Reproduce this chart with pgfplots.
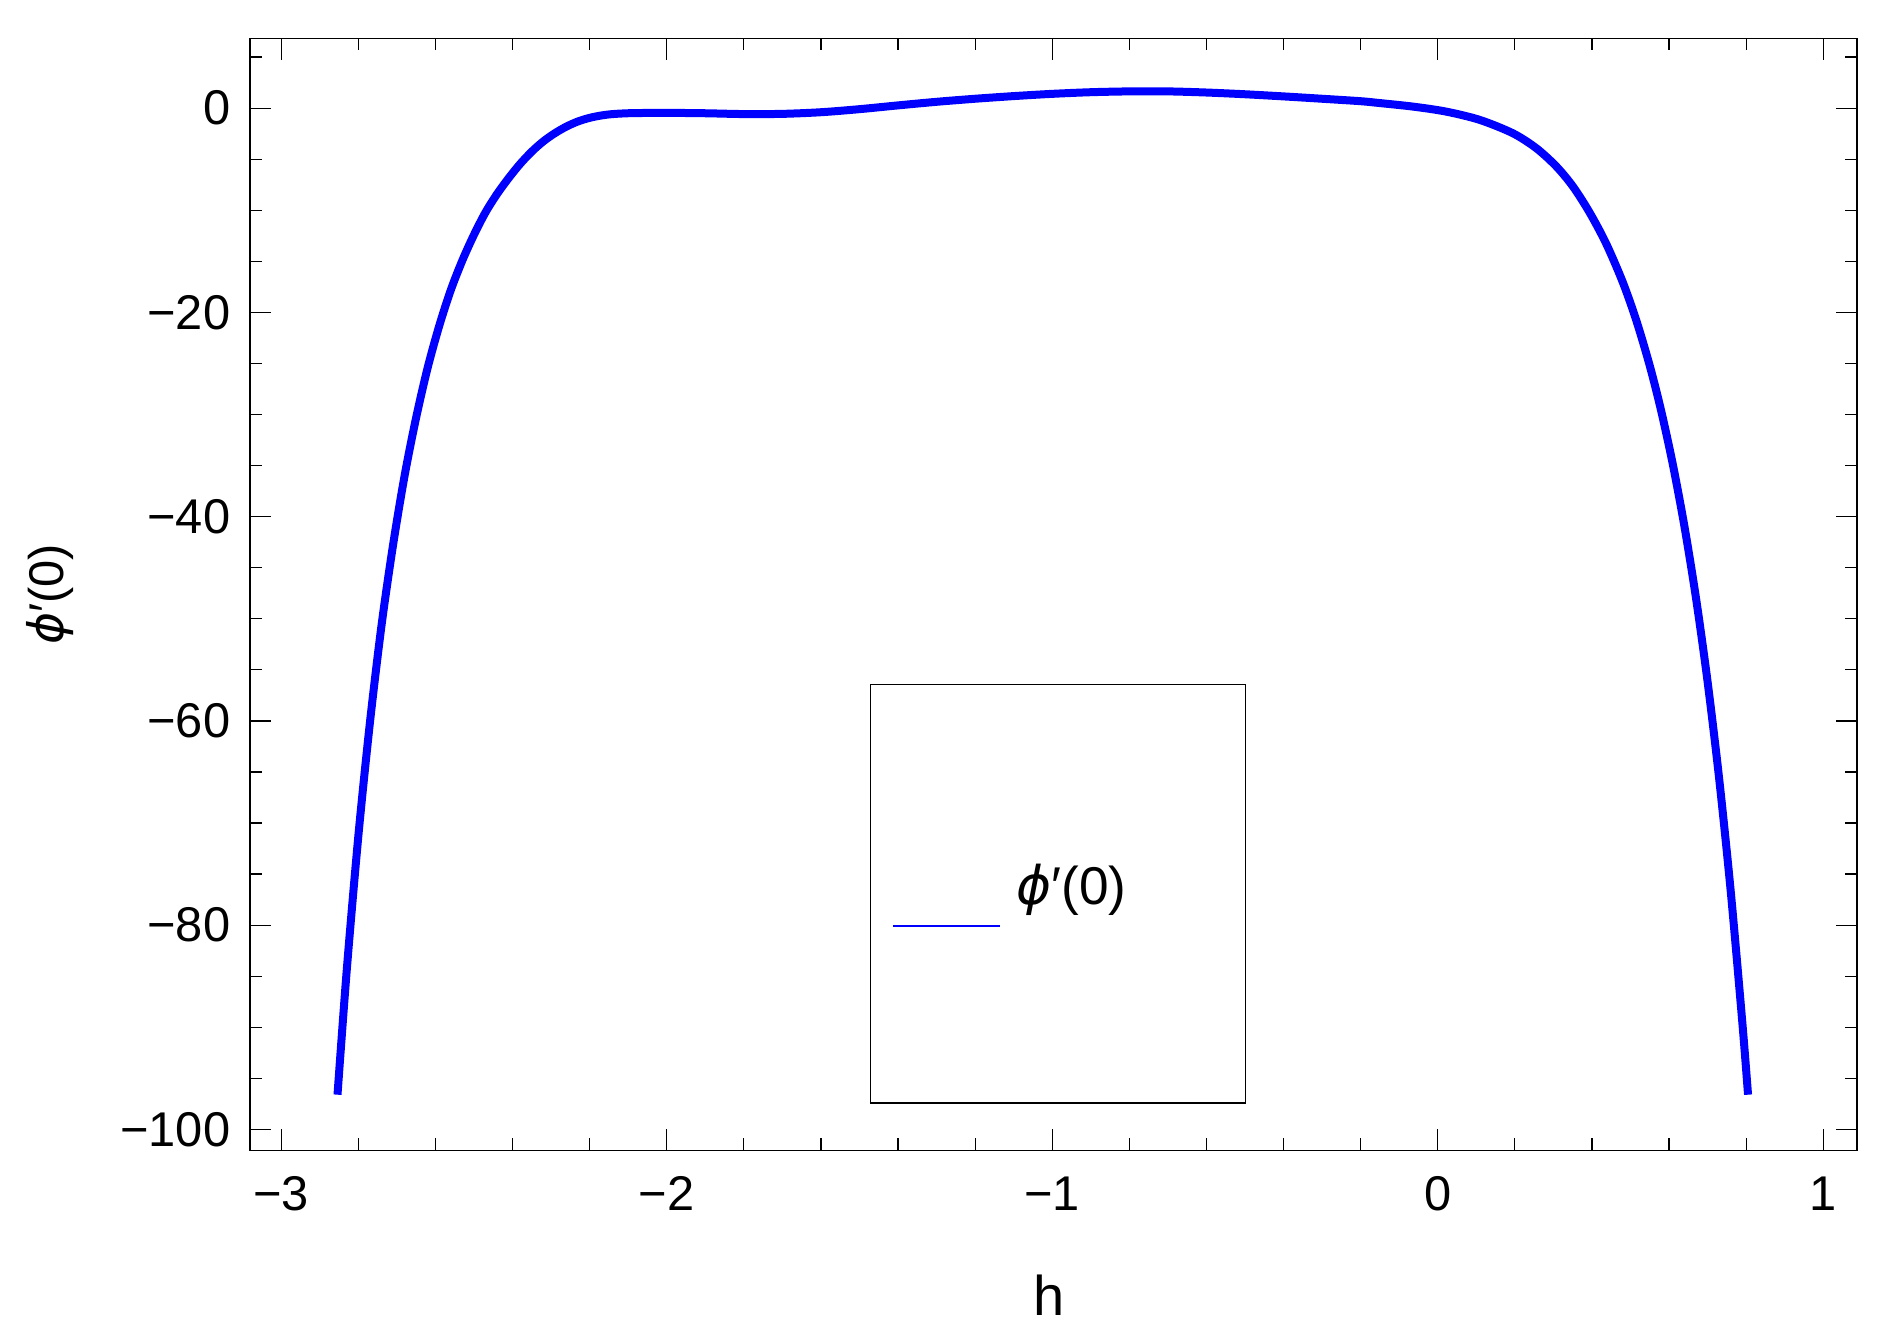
\documentclass[border=0pt]{standalone}
\usepackage{fontspec}
\setmainfont{Liberation Sans}
\newfontfamily\dejavu{DejaVu Sans}
\usepackage{pgfplots}
\pgfplotsset{compat=1.18}
\newcommand{\phizero}{{\dejavu\itshape ϕ}′(0)}

\begin{document}
\begin{tikzpicture}
\begin{axis}[scale only axis, width=401.9pt, height=278.1pt,
  xmin=-3.0812, xmax=1.0877, ymin=-102.06, ymax=6.83,
  xtick={-3,-2,-1,0,1}, xticklabels={−3,−2,−1,0,1},
  ytick={-100,-80,-60,-40,-20,0}, yticklabels={−100,−80,−60,−40,−20,0},
  minor xtick={-3,-2.8,...,1.01}, minor ytick={-100,-95,...,5},
  tick align=inside, major tick length=5.3pt, minor tick length=3pt,
  tick style={black, line width=0.3pt},
  axis line style={line width=0.3pt},
  ticklabel style={font=\fontsize{12.2}{14}\selectfont},
  xticklabel style={yshift=-3pt}, yticklabel style={xshift=-1.4pt},
  every axis x label/.style={at={(rel axis cs:0.5,0)}, xshift=-1pt, yshift=-41.25pt,
    anchor=base, font=\fontsize{14}{16}\selectfont},
  every axis y label/.style={at={(rel axis cs:0,0.5)}, xshift=-46.5pt, rotate=90,
    anchor=base, font=\fontsize{12.2}{14}\selectfont},
  xlabel={h}, ylabel={\phizero},
  legend style={at={(0.386,0.4193)}, anchor=north west, draw=black, line width=0.3pt,
    fill=white, inner sep=0pt, column sep=0pt, nodes={inner sep=0pt},
    font=\fontsize{13.3}{16}\selectfont, cells={anchor=center}},
  legend image code/.code={
    \path[draw=none, fill=none] (-5.6pt,-53.9pt) rectangle (30.75pt,50.7pt);
    \draw[#1, line width=0.45pt] (0pt,-9.7pt) -- (26.75pt,-9.7pt);
  },
]
\addplot[blue, line width=2pt, smooth] coordinates {
  (-2.854,-96.6) (-2.83,-84.4) (-2.80,-71.3) (-2.77,-60.2) (-2.74,-50.7)
  (-2.71,-42.8) (-2.68,-36.0) (-2.65,-30.3) (-2.62,-25.4) (-2.59,-21.3)
  (-2.56,-17.8) (-2.53,-14.9) (-2.50,-12.4) (-2.47,-10.2) (-2.44,-8.4)
  (-2.41,-6.85) (-2.38,-5.45) (-2.35,-4.25) (-2.32,-3.25) (-2.29,-2.45)
  (-2.26,-1.8) (-2.23,-1.3) (-2.20,-0.95) (-2.17,-0.72) (-2.14,-0.58)
  (-2.10,-0.50) (-2.05,-0.47) (-2.0,-0.46) (-1.9,-0.5) (-1.8,-0.58)
  (-1.7,-0.56) (-1.6,-0.4) (-1.5,-0.1) (-1.4,0.27) (-1.3,0.62)
  (-1.2,0.92) (-1.1,1.18) (-1.0,1.4) (-0.9,1.56) (-0.8,1.64)
  (-0.7,1.64) (-0.6,1.53) (-0.5,1.36) (-0.4,1.15) (-0.3,0.92)
  (-0.2,0.68) (-0.151,0.5) (-0.064,0.15) (0.022,-0.34) (0.109,-1.15)
  (0.195,-2.46) (0.256,-3.93) (0.308,-5.72) (0.351,-7.68) (0.394,-10.22)
  (0.437,-13.27) (0.48,-17.04) (0.515,-20.77) (0.55,-25.22) (0.58,-29.70)
  (0.61,-34.91) (0.64,-40.96) (0.67,-47.98) (0.70,-56.15) (0.73,-65.64)
  (0.76,-76.66) (0.79,-89.46) (0.805,-96.6)
};
\addlegendentry{\rule[-6.2pt]{0pt}{0pt}\phizero\hspace*{29.9pt}}
\coordinate (bl) at (rel axis cs:0,0);
\coordinate (tr) at (rel axis cs:1,1);
\end{axis}
\path ([xshift=-62.5pt,yshift=-48pt]bl) rectangle ([xshift=7pt,yshift=9.6pt]tr);
\end{tikzpicture}
\end{document}
